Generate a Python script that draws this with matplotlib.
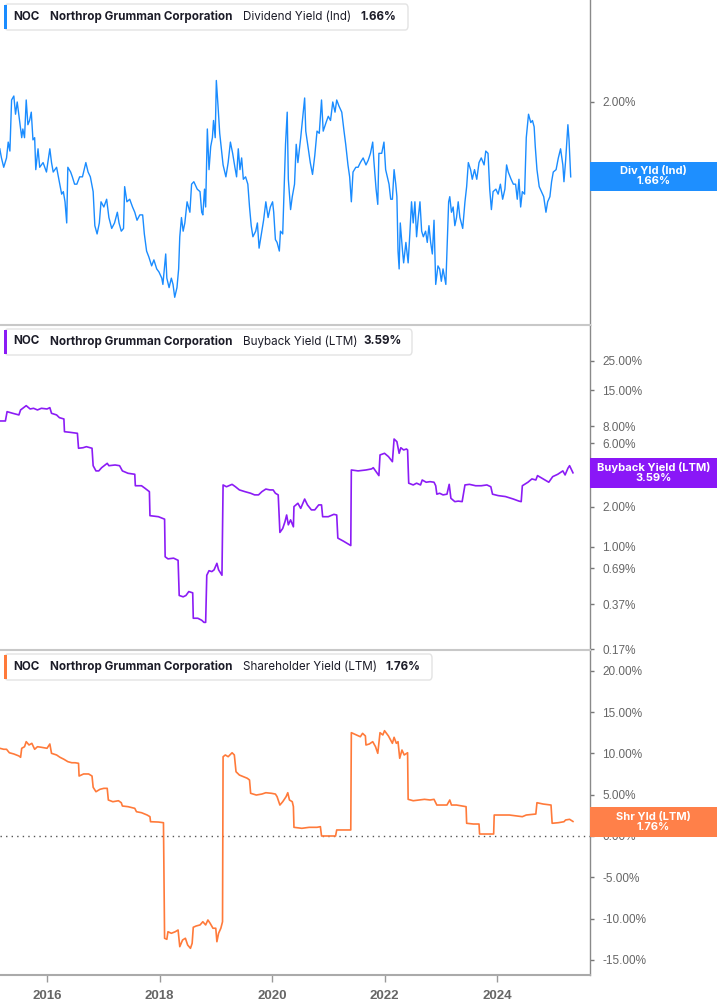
import matplotlib
matplotlib.use("Agg")
import matplotlib.pyplot as plt
from matplotlib.patches import FancyBboxPatch, Rectangle
from matplotlib.ticker import FixedLocator, NullLocator

W, H = 717, 1005

# ---- data (decimal year, value in %) ----
div_t = [2015.16, 2015.19, 2015.23, 2015.28, 2015.31, 2015.34, 2015.37, 2015.41, 2015.44, 2015.47,
         2015.52, 2015.55, 2015.57, 2015.60, 2015.63, 2015.66, 2015.69, 2015.72, 2015.75, 2015.78,
         2015.80, 2015.84, 2015.87, 2015.93, 2015.99, 2016.05, 2016.08, 2016.11, 2016.17, 2016.21,
         2016.26, 2016.29, 2016.32, 2016.35, 2016.37, 2016.42, 2016.45, 2016.49, 2016.53, 2016.58,
         2016.63, 2016.69, 2016.73, 2016.77, 2016.82, 2016.85, 2016.89, 2016.93, 2016.96, 2017.01,
         2017.06, 2017.10, 2017.15, 2017.20, 2017.25, 2017.28, 2017.32, 2017.36, 2017.38, 2017.42,
         2017.47, 2017.52, 2017.56, 2017.60, 2017.65, 2017.70, 2017.73, 2017.77, 2017.81, 2017.86,
         2017.90, 2017.95, 2017.99, 2018.04, 2018.06, 2018.11, 2018.13, 2018.17, 2018.21, 2018.24,
         2018.27, 2018.31, 2018.34, 2018.36, 2018.39, 2018.42, 2018.45, 2018.49, 2018.54, 2018.57,
         2018.61, 2018.67, 2018.72, 2018.75, 2018.77, 2018.80, 2018.82, 2018.85, 2018.88, 2018.91,
         2018.94, 2018.96, 2018.99, 2019.01, 2019.04, 2019.07, 2019.10, 2019.13, 2019.18, 2019.22,
         2019.26, 2019.30, 2019.34, 2019.37, 2019.40, 2019.43, 2019.46, 2019.49, 2019.53, 2019.57,
         2019.60, 2019.63, 2019.66, 2019.71, 2019.74, 2019.77, 2019.81, 2019.85, 2019.89, 2019.93,
         2019.97, 2020.01, 2020.03, 2020.06, 2020.09, 2020.13, 2020.15, 2020.19, 2020.21, 2020.24,
         2020.27, 2020.29, 2020.33, 2020.36, 2020.40, 2020.43, 2020.46, 2020.51, 2020.54, 2020.58,
         2020.60, 2020.64, 2020.68, 2020.72, 2020.76, 2020.80, 2020.84, 2020.88, 2020.91, 2020.96,
         2021.00, 2021.04, 2021.08, 2021.12, 2021.15, 2021.19, 2021.24, 2021.28, 2021.31, 2021.35,
         2021.38, 2021.41, 2021.44, 2021.49, 2021.53, 2021.57, 2021.62, 2021.67, 2021.71, 2021.75,
         2021.79, 2021.81, 2021.85, 2021.88, 2021.90, 2021.95, 2021.99, 2022.02, 2022.05, 2022.08,
         2022.11, 2022.14, 2022.17, 2022.20, 2022.22, 2022.24, 2022.26, 2022.28, 2022.32, 2022.34,
         2022.38, 2022.42, 2022.45, 2022.48, 2022.51, 2022.54, 2022.57, 2022.60, 2022.63, 2022.66,
         2022.69, 2022.73, 2022.76, 2022.79, 2022.82, 2022.85, 2022.88, 2022.91, 2022.95, 2022.98,
         2023.01, 2023.04, 2023.09, 2023.11, 2023.14, 2023.16, 2023.19, 2023.22, 2023.25, 2023.28,
         2023.31, 2023.34, 2023.39, 2023.43, 2023.46, 2023.49, 2023.53, 2023.56, 2023.60, 2023.64,
         2023.68, 2023.72, 2023.77, 2023.80, 2023.84, 2023.87, 2023.90, 2023.93, 2023.98, 2024.02,
         2024.06, 2024.10, 2024.14, 2024.17, 2024.20, 2024.25, 2024.29, 2024.33, 2024.36, 2024.39,
         2024.42, 2024.45, 2024.49, 2024.52, 2024.56, 2024.60, 2024.63, 2024.66, 2024.68, 2024.71,
         2024.75, 2024.79, 2024.83, 2024.87, 2024.90, 2024.94, 2024.97, 2025.00, 2025.05, 2025.09,
         2025.13, 2025.17, 2025.19, 2025.22, 2025.26, 2025.28, 2025.31]
div_v = [1.78, 1.74, 1.70, 1.74, 1.81, 1.77, 2.01, 2.03, 1.94, 2.00,
         1.89, 1.83, 1.87, 1.83, 2.01, 1.89, 1.91, 1.95, 1.82, 1.83,
         1.69, 1.78, 1.70, 1.72, 1.68, 1.78, 1.72, 1.68, 1.70, 1.65,
         1.59, 1.60, 1.56, 1.48, 1.70, 1.68, 1.66, 1.63, 1.63, 1.66,
         1.66, 1.72, 1.68, 1.66, 1.60, 1.47, 1.44, 1.48, 1.56, 1.54,
         1.57, 1.50, 1.46, 1.48, 1.52, 1.48, 1.45, 1.46, 1.62, 1.56,
         1.57, 1.54, 1.52, 1.49, 1.51, 1.51, 1.44, 1.38, 1.36, 1.33,
         1.35, 1.32, 1.31, 1.29, 1.27, 1.37, 1.29, 1.26, 1.29, 1.27,
         1.23, 1.26, 1.32, 1.43, 1.50, 1.45, 1.48, 1.56, 1.52, 1.63,
         1.64, 1.61, 1.60, 1.52, 1.51, 1.61, 1.54, 1.87, 1.69, 1.79,
         1.83, 1.91, 1.83, 2.11, 1.98, 1.85, 1.78, 1.71, 1.66, 1.72,
         1.81, 1.76, 1.70, 1.66, 1.78, 1.69, 1.74, 1.65, 1.66, 1.63,
         1.54, 1.47, 1.43, 1.45, 1.48, 1.39, 1.44, 1.49, 1.56, 1.50,
         1.54, 1.56, 1.52, 1.42, 1.41, 1.38, 1.45, 1.44, 1.58, 1.80,
         1.95, 1.65, 1.53, 1.58, 1.63, 1.80, 1.72, 1.83, 1.91, 2.02,
         1.86, 1.79, 1.72, 1.67, 1.75, 1.86, 1.85, 2.01, 1.86, 1.90,
         1.93, 1.91, 2.00, 1.95, 2.01, 1.98, 1.95, 1.86, 1.80, 1.71,
         1.66, 1.56, 1.68, 1.70, 1.70, 1.72, 1.74, 1.71, 1.73, 1.76,
         1.81, 1.73, 1.61, 1.55, 1.76, 1.76, 1.81, 1.69, 1.66, 1.63,
         1.57, 1.57, 1.69, 1.63, 1.58, 1.38, 1.32, 1.48, 1.38, 1.34,
         1.41, 1.34, 1.44, 1.56, 1.48, 1.56, 1.43, 1.50, 1.56, 1.45,
         1.43, 1.45, 1.41, 1.47, 1.41, 1.37, 1.49, 1.27, 1.33, 1.32,
         1.28, 1.32, 1.27, 1.38, 1.56, 1.58, 1.52, 1.54, 1.47, 1.50,
         1.56, 1.50, 1.46, 1.56, 1.62, 1.72, 1.69, 1.65, 1.69, 1.65,
         1.72, 1.74, 1.71, 1.77, 1.76, 1.61, 1.53, 1.60, 1.61, 1.59,
         1.63, 1.57, 1.61, 1.71, 1.68, 1.65, 1.63, 1.63, 1.57, 1.65,
         1.54, 1.60, 1.59, 1.83, 1.94, 1.90, 1.91, 1.88, 1.79, 1.69,
         1.62, 1.60, 1.58, 1.52, 1.56, 1.58, 1.64, 1.68, 1.69, 1.74,
         1.78, 1.71, 1.64, 1.73, 1.89, 1.82, 1.66]

bb_t = [2015.16, 2015.26, 2015.29, 2015.39, 2015.50, 2015.53, 2015.63, 2015.70, 2015.76, 2015.83,
        2015.90, 2016.00, 2016.05, 2016.08, 2016.17, 2016.22, 2016.30, 2016.31, 2016.40, 2016.54,
        2016.56, 2016.64, 2016.70, 2016.80, 2016.82, 2016.87, 2016.92, 2016.97, 2017.07, 2017.10,
        2017.21, 2017.29, 2017.34, 2017.44, 2017.56, 2017.57, 2017.68, 2017.74, 2017.82, 2017.83,
        2017.98, 2018.06, 2018.09, 2018.10, 2018.15, 2018.25, 2018.33, 2018.35, 2018.42, 2018.47,
        2018.52, 2018.59, 2018.60, 2018.68, 2018.75, 2018.79, 2018.82, 2018.84, 2018.88, 2018.93,
        2018.97, 2019.02, 2019.05, 2019.11, 2019.13, 2019.19, 2019.29, 2019.35, 2019.42, 2019.52,
        2019.62, 2019.69, 2019.76, 2019.82, 2019.89, 2019.96, 2020.02, 2020.06, 2020.11, 2020.14,
        2020.19, 2020.23, 2020.26, 2020.29, 2020.33, 2020.38, 2020.39, 2020.46, 2020.51, 2020.58,
        2020.63, 2020.70, 2020.76, 2020.83, 2020.88, 2020.90, 2021.00, 2021.10, 2021.15, 2021.17,
        2021.27, 2021.40, 2021.41, 2021.53, 2021.67, 2021.77, 2021.80, 2021.87, 2021.90, 2021.92,
        2022.00, 2022.07, 2022.14, 2022.17, 2022.22, 2022.26, 2022.29, 2022.34, 2022.39, 2022.41,
        2022.43, 2022.51, 2022.57, 2022.64, 2022.67, 2022.74, 2022.81, 2022.88, 2022.91, 2022.93,
        2022.98, 2023.04, 2023.11, 2023.15, 2023.18, 2023.25, 2023.31, 2023.38, 2023.43, 2023.51,
        2023.62, 2023.72, 2023.82, 2023.89, 2023.92, 2024.02, 2024.15, 2024.29, 2024.39, 2024.43,
        2024.45, 2024.55, 2024.62, 2024.69, 2024.72, 2024.82, 2024.92, 2024.99, 2025.08, 2025.17,
        2025.21, 2025.26, 2025.29, 2025.35]
bb_v = [8.80, 8.80, 10.34, 10.05, 9.77, 10.65, 11.47, 10.83, 10.96, 10.65,
        10.96, 10.83, 11.08, 10.05, 9.77, 9.32, 9.11, 7.31, 7.24, 7.11,
        5.49, 5.54, 5.64, 5.49, 4.06, 3.71, 3.71, 3.92, 4.23, 4.06,
        4.11, 4.06, 3.71, 3.56, 3.50, 2.87, 2.87, 2.75, 2.59, 1.71,
        1.68, 1.63, 1.61, 0.84, 0.81, 0.82, 0.79, 0.43, 0.42, 0.43,
        0.46, 0.45, 0.29, 0.29, 0.28, 0.27, 0.27, 0.61, 0.66, 0.65,
        0.67, 0.75, 0.67, 0.61, 2.91, 2.82, 2.94, 2.82, 2.67, 2.59,
        2.52, 2.45, 2.45, 2.59, 2.71, 2.67, 2.67, 2.52, 2.45, 1.28,
        1.37, 1.54, 1.73, 1.46, 1.59, 1.41, 2.00, 2.12, 1.94, 2.28,
        2.06, 1.89, 1.89, 2.06, 2.06, 1.68, 1.68, 1.75, 1.73, 1.16,
        1.10, 1.02, 3.77, 3.71, 3.77, 3.84, 3.92, 3.56, 3.42, 4.89,
        5.03, 4.75, 4.35, 6.44, 6.15, 5.03, 5.54, 5.33, 5.42, 5.33,
        3.00, 2.91, 3.00, 2.91, 3.17, 3.05, 3.08, 3.05, 2.87, 2.48,
        2.52, 2.45, 2.48, 2.94, 2.31, 2.18, 2.20, 2.18, 2.91, 2.94,
        2.87, 2.87, 2.91, 2.82, 2.48, 2.42, 2.38, 2.28, 2.20, 2.18,
        2.87, 3.05, 3.23, 3.17, 3.42, 3.23, 3.05, 3.36, 3.50, 3.71,
        3.46, 3.88, 4.06, 3.59]

shr_t = [2015.16, 2015.23, 2015.28, 2015.33, 2015.41, 2015.50, 2015.53, 2015.55, 2015.60, 2015.63,
         2015.68, 2015.73, 2015.78, 2015.83, 2015.90, 2016.00, 2016.05, 2016.08, 2016.17, 2016.23,
         2016.30, 2016.37, 2016.44, 2016.50, 2016.56, 2016.57, 2016.65, 2016.74, 2016.80, 2016.82,
         2016.87, 2016.94, 2017.01, 2017.07, 2017.09, 2017.17, 2017.27, 2017.32, 2017.34, 2017.44,
         2017.56, 2017.59, 2017.68, 2017.78, 2017.83, 2017.84, 2017.98, 2018.07, 2018.09, 2018.13,
         2018.15, 2018.21, 2018.28, 2018.33, 2018.36, 2018.41, 2018.46, 2018.50, 2018.55, 2018.58,
         2018.60, 2018.65, 2018.72, 2018.77, 2018.82, 2018.86, 2018.90, 2018.95, 2019.00, 2019.02,
         2019.05, 2019.09, 2019.12, 2019.13, 2019.17, 2019.22, 2019.29, 2019.33, 2019.36, 2019.42,
         2019.49, 2019.56, 2019.60, 2019.62, 2019.72, 2019.82, 2019.89, 2019.99, 2020.06, 2020.09,
         2020.14, 2020.19, 2020.25, 2020.28, 2020.31, 2020.36, 2020.38, 2020.39, 2020.53, 2020.66,
         2020.80, 2020.86, 2020.88, 2021.00, 2021.13, 2021.15, 2021.27, 2021.40, 2021.41, 2021.50,
         2021.57, 2021.61, 2021.66, 2021.67, 2021.73, 2021.79, 2021.84, 2021.88, 2021.92, 2021.97,
         2022.00, 2022.07, 2022.14, 2022.17, 2022.21, 2022.24, 2022.27, 2022.31, 2022.35, 2022.41,
         2022.42, 2022.51, 2022.61, 2022.71, 2022.81, 2022.88, 2022.93, 2023.01, 2023.11, 2023.16,
         2023.19, 2023.28, 2023.38, 2023.45, 2023.46, 2023.58, 2023.68, 2023.69, 2023.82, 2023.94,
         2023.95, 2024.08, 2024.22, 2024.35, 2024.45, 2024.52, 2024.69, 2024.71, 2024.82, 2024.96,
         2024.98, 2025.09, 2025.19, 2025.22, 2025.29, 2025.35]
shr_v = [10.62, 10.50, 10.50, 10.08, 9.93, 9.69, 9.53, 10.62, 10.81, 11.42,
         11.02, 11.22, 10.50, 10.81, 10.74, 10.62, 11.14, 10.01, 9.81, 9.53,
         9.29, 9.00, 8.87, 8.87, 8.80, 7.26, 7.51, 7.51, 7.26, 5.90,
         5.36, 5.65, 5.77, 5.77, 4.36, 4.15, 4.27, 4.03, 3.63, 3.55,
         3.35, 2.94, 2.82, 2.54, 2.34, 1.73, 1.69, 1.61, -12.38, -12.51,
         -11.59, -11.78, -11.59, -11.38, -13.40, -12.59, -12.38, -13.20, -13.60, -12.99,
         -11.05, -10.90, -10.77, -10.38, -10.77, -10.17, -10.57, -11.17, -11.17, -12.80,
         -11.78, -11.17, -10.38, 9.60, 9.81, 9.60, 10.08, 9.81, 7.78, 7.38,
         7.18, 6.99, 6.78, 5.17, 4.96, 5.08, 5.24, 5.17, 5.08, 4.76,
         3.75, 4.15, 4.76, 5.24, 4.36, 4.15, 3.55, 1.05, 0.93, 1.05,
         1.05, 1.13, 0.00, 0.00, 0.00, 0.73, 0.73, 0.73, 12.51, 12.23,
         12.02, 12.43, 12.11, 11.02, 11.14, 11.42, 10.81, 10.01, 12.51, 12.23,
         12.75, 12.11, 11.22, 11.95, 11.22, 11.42, 9.41, 10.41, 9.81, 10.08,
         4.44, 4.27, 4.36, 4.44, 4.36, 4.44, 3.75, 3.75, 3.75, 4.36,
         3.75, 3.75, 3.63, 3.55, 1.54, 1.45, 1.45, 0.24, 0.24, 0.24,
         2.54, 2.54, 2.54, 2.42, 2.34, 2.54, 2.66, 4.03, 3.87, 3.75,
         1.54, 1.61, 1.73, 1.94, 2.02, 1.76]

year_ticks = [2016, 2018, 2020, 2022, 2024]
div_ticks = [2.0]
bb_ticks = [25, 15, 8, 6, 3, 2, 1, 0.69, 0.37, 0.17]
shr_ticks = [20, 15, 10, 5, 0, -5, -10, -15]

ticker = "NOC"
company = "Northrop Grumman Corporation"

X0, X1 = 2015.164, 2025.653


def fx(px):
    return px / W


def fy(py):
    return 1 - py / H


fig = plt.figure(figsize=(W / 100, H / 100), dpi=100)

panels = [
    dict(top=0, t=div_t, v=div_v, color="#1a8cff", tag="#1e8fff", log=True, lw=1.0,
         ylim=(1.148, 2.578), ticks=div_ticks, name="Dividend Yield (Ind)",
         short="Div Yld (Ind)", last="1.66%", box_w=408, val_x=360.7, tag_y=(161.7, 191)),
    dict(top=325, t=bb_t, v=bb_v, color="#8b1cf5", tag="#8a17f7", log=True, lw=1.2,
         ylim=(0.1674, 46.3), ticks=bb_ticks, name="Buyback Yield (LTM)",
         short="Buyback Yield (LTM)", last="3.59%", box_w=412, val_x=363.3, tag_y=(458, 487.7)),
    dict(top=650, t=shr_t, v=shr_v, color="#ff7a3a", tag="#ff8049", log=False, lw=1.2,
         ylim=(-16.83, 22.52), ticks=shr_ticks, name="Shareholder Yield (LTM)",
         short="Shr Yld (LTM)", last="1.76%", box_w=432, val_x=385, tag_y=(806.7, 836.7)),
]

axes = []
for i, p in enumerate(panels):
    ax = fig.add_axes([0, fy(p["top"] + 325), fx(590), 325 / H])
    ax.plot(p["t"], p["v"], color=p["color"], lw=p["lw"])
    if p["log"]:
        ax.set_yscale("log")
    ax.set_xlim(X0, X1)
    ax.set_ylim(*p["ylim"])
    ax.yaxis.set_major_locator(FixedLocator(p["ticks"]))
    ax.yaxis.set_minor_locator(NullLocator())
    ax.set_yticklabels([f"{v:.2f}%" for v in p["ticks"]])
    ax.yaxis.tick_right()
    ax.tick_params(axis="y", direction="out", length=3, width=1, color="#777",
                   labelsize=8.5, labelcolor="#666", pad=6)
    for lab in ax.get_yticklabels():
        lab.set_fontfamily("Liberation Sans")
    for s in ["left", "bottom", "top"]:
        ax.spines[s].set_visible(False)
    ax.spines["right"].set_color("#8a8a8a")
    ax.spines["right"].set_linewidth(1.0)
    if i > 0:
        ax.spines["top"].set_visible(True)
        ax.spines["top"].set_color("#c8c8c8")
        ax.spines["top"].set_linewidth(1.5)
    ax.set_xticks(year_ticks)
    ax.xaxis.set_minor_locator(NullLocator())
    if i < 2:
        ax.tick_params(axis="x", bottom=False, labelbottom=False)
    ax.patch.set_alpha(0)
    axes.append(ax)

    # legend box
    y0 = p["top"] + 4
    fig.patches.append(FancyBboxPatch((fx(5), fy(y0 + 26)), fx(p["box_w"] - 5), 26 / H,
                                      boxstyle="round,pad=0,rounding_size=0.004",
                                      transform=fig.transFigure, facecolor="white",
                                      edgecolor="#e3e3e3", lw=1.0, zorder=5))
    fig.patches.append(Rectangle((fx(4), fy(y0 + 25)), fx(3), 24 / H,
                                 transform=fig.transFigure, facecolor=p["color"],
                                 edgecolor="none", zorder=6))
    ty = fy(p["top"] + 16.5)
    kw = dict(va="center", ha="left", fontsize=8.4, color="#1c1c28", family="Inter", zorder=7)
    fig.text(fx(13.3), ty, ticker, fontweight="bold", **kw)
    fig.text(fx(50), ty, company, fontweight="bold", **kw)
    fig.text(fx(242.7), ty, p["name"], **kw)
    fig.text(fx(p["val_x"]), ty, p["last"], fontweight="bold", **kw)

    # value tag on the right axis
    ya, yb = p["tag_y"]
    fig.patches.append(Rectangle((fx(590), fy(yb)), 1 - fx(590), (yb - ya) / H,
                                 transform=fig.transFigure, facecolor=p["tag"],
                                 edgecolor="none", zorder=5))
    fig.text(fx(653.5), fy((ya + yb) / 2), p["short"] + "\n" + p["last"], ha="center",
             va="center", fontsize=8, fontweight="bold", color="white", family="Inter",
             linespacing=1.0, zorder=7)

ax3 = axes[2]
ax3.axhline(0, color="#555555", lw=1.0, ls=(0, (1, 3)), zorder=1)
ax3.spines["bottom"].set_visible(True)
ax3.spines["bottom"].set_color("#aaaaaa")
ax3.spines["bottom"].set_linewidth(1.5)
ax3.set_xticklabels([str(y) for y in year_ticks])
ax3.tick_params(axis="x", direction="out", length=5, width=1, color="#999",
                labelsize=9.5, labelcolor="#666", pad=6)
for lab in ax3.get_xticklabels():
    lab.set_fontweight("bold")
    lab.set_fontfamily("Liberation Sans")

fig.savefig("out.png", dpi=100)
